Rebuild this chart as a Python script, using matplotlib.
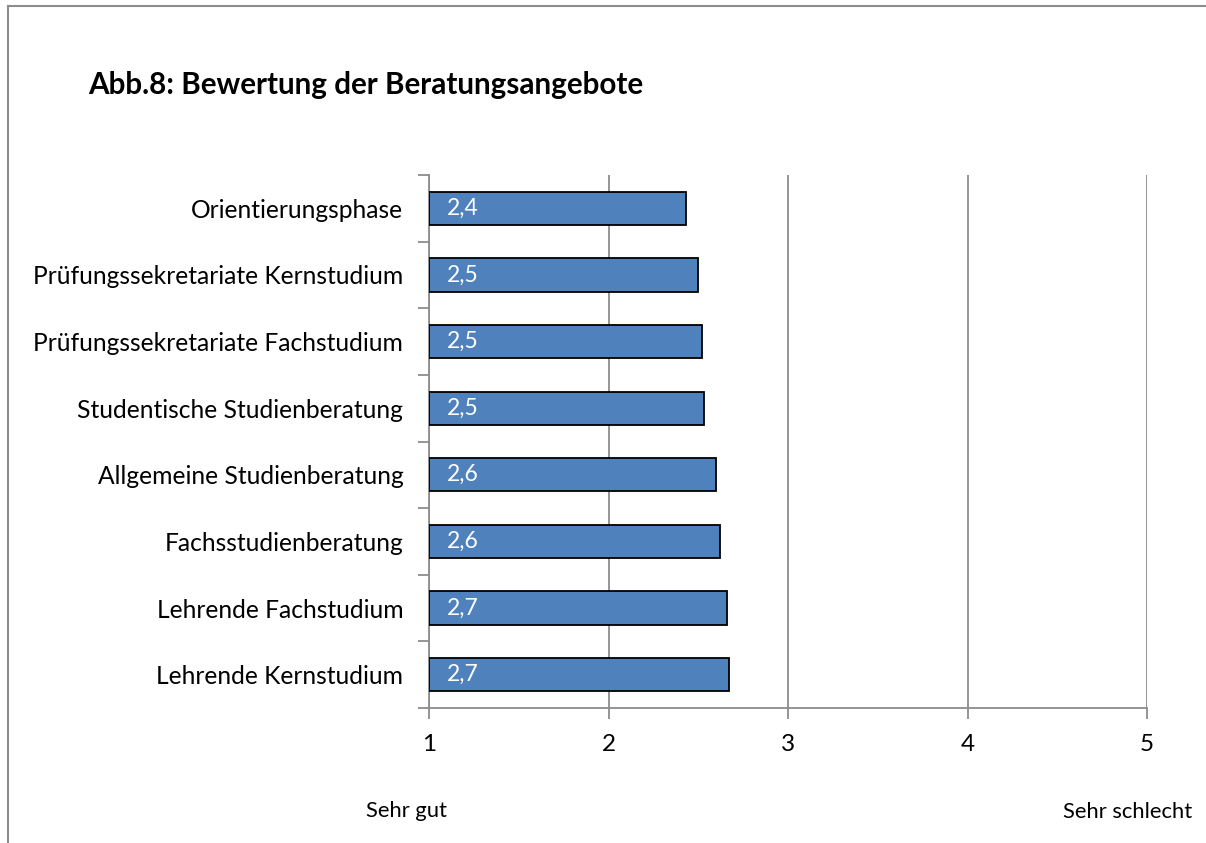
import matplotlib
matplotlib.use("Agg")
import matplotlib.pyplot as plt
from matplotlib.lines import Line2D

plt.rcParams['font.family'] = ['Lato', 'DejaVu Sans']

categories = ["Orientierungsphase", "Prüfungssekretariate Kernstudium",
              "Prüfungssekretariate Fachstudium", "Studentische Studienberatung",
              "Allgemeine Studienberatung", "Fachsstudienberatung",
              "Lehrende Fachstudium", "Lehrende Kernstudium"]
values = [2.43, 2.50, 2.52, 2.53, 2.60, 2.62, 2.66, 2.67]
labels = ["2,4", "2,5", "2,5", "2,5", "2,6", "2,6", "2,7", "2,7"]
xticks = [1, 2, 3, 4, 5]

W, H = 1206, 843
fig = plt.figure(figsize=(W / 100, H / 100), dpi=100)

# axes placement (pixels)
x0, x1 = 429, 1147
y_top, y_bot = 175, 708
ax = fig.add_axes([x0 / W, 1 - y_bot / H, (x1 - x0) / W, (y_bot - y_top) / H])

n = len(categories)
pos = list(range(n))
ax.barh(pos, [v - 1 for v in values], left=1, height=0.5,
        color='#4F81BD', edgecolor='black', linewidth=1.3, zorder=3)
for p, lab in zip(pos, labels):
    ax.text(1.097, p, lab, color='white', fontsize=16.5, va='center', ha='left', zorder=4)

ax.set_xlim(1, 5)
ax.set_ylim(n - 0.5, -0.5)
ax.set_xticks(xticks)
ax.set_xticklabels([str(t) for t in xticks], fontsize=17.5)
ax.set_yticks(pos)
ax.set_yticklabels(categories, fontsize=17.7)
ax.tick_params(axis='y', length=0, pad=18.5)
ax.tick_params(axis='x', length=8, width=1.3, color='#8C8C8C', pad=11)
# minor ticks on y at boundaries
ax.set_yticks([i - 0.5 for i in range(n + 1)], minor=True)
ax.tick_params(axis='y', which='minor', length=8, width=1.3, color='#8C8C8C')
ax.xaxis.grid(True, color='#8C8C8C', linewidth=1.3, zorder=0)
ax.set_axisbelow(True)
for s in ['top', 'right']:
    ax.spines[s].set_visible(False)
for s in ['left', 'bottom']:
    ax.spines[s].set_color('#8C8C8C')
    ax.spines[s].set_linewidth(1.3)

fig.text(88 / W, 1 - 85 / H, "Abb.8: Bewertung der Beratungsangebote",
         fontsize=21.3, fontweight='bold', va='center', ha='left')
fig.text(407 / W, 1 - 811 / H, "Sehr gut", fontsize=15.8, va='center', ha='center')
fig.text(1128 / W, 1 - 812 / H, "Sehr schlecht", fontsize=15.8, va='center', ha='center')

# outer border (left and top)
fig.add_artist(Line2D([7.5 / W, 7.5 / W], [0, 1 - 5.5 / H], transform=fig.transFigure,
                      color='#8C8C8C', linewidth=1.5))
fig.add_artist(Line2D([7.5 / W, 1], [1 - 5.5 / H, 1 - 5.5 / H], transform=fig.transFigure,
                      color='#8C8C8C', linewidth=1.5))

fig.savefig("out.png", dpi=100)
